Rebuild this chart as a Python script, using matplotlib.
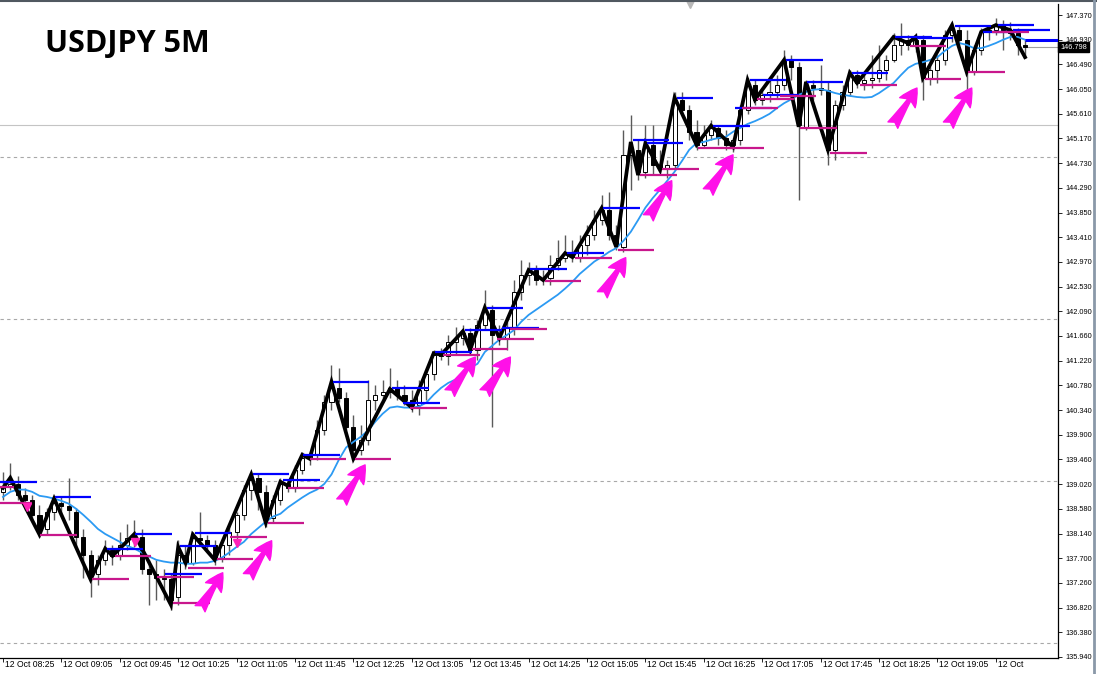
import numpy as np
import matplotlib.pyplot as plt
from matplotlib.patches import Rectangle
from matplotlib.lines import Line2D
import matplotlib.transforms as mtransforms

# ---- data (USDJPY, 5 minute bars, 12 Oct) ----
time_labels = ["08:25", "09:05", "09:45", "10:25", "11:05", "11:45", "12:25", "13:05", "13:45",
               "14:25", "15:05", "15:45", "16:25", "17:05", "17:45", "18:25", "19:05", "19:45"]

price_labels = ["147.370", "146.930", "146.490", "146.050", "145.610", "145.170", "144.730",
                "144.290", "143.850", "143.410", "142.970", "142.530", "142.090", "141.660",
                "141.220", "140.780", "140.340", "139.900", "139.460", "139.020", "138.580",
                "138.140", "137.700", "137.260", "136.820", "136.380", "135.940"]

opens = [138.88, 138.99, 139.02, 138.83, 138.74, 138.47, 138.21, 138.53, 138.69, 138.62,
         138.53, 138.08, 137.76, 137.41, 137.67, 137.85, 137.74, 137.94, 138.03, 138.08,
         137.50, 137.41, 137.35, 137.32, 137.00, 137.76, 137.62, 138.06, 138.03, 137.94,
         137.71, 137.94, 138.17, 138.47, 138.92, 139.13, 138.88, 138.42, 138.74, 139.02,
         138.95, 139.27, 139.49, 139.54, 139.99, 140.48, 140.73, 140.56, 140.04, 139.63,
         139.81, 140.52, 140.61, 140.66, 140.73, 140.61, 140.52, 140.43, 140.70, 140.97,
         141.32, 141.30, 141.55, 141.62, 141.71, 141.41, 141.85, 142.12, 141.67, 141.62,
         141.80, 142.44, 142.74, 142.83, 142.66, 142.69, 142.92, 143.05, 143.14, 143.06,
         143.28, 143.45, 143.72, 143.90, 143.45, 143.24, 144.88, 144.97, 144.58, 145.06,
         144.70, 144.65, 144.70, 145.86, 145.68, 145.29, 145.06, 145.24, 145.36, 145.18,
         145.06, 145.15, 145.68, 146.12, 145.86, 145.95, 146.00, 146.12, 146.57, 146.44,
         145.38, 146.12, 146.07, 146.04, 144.97, 145.77, 146.00, 146.30, 146.16, 146.22,
         146.25, 146.39, 146.57, 146.84, 146.93, 146.84, 146.93, 146.25, 146.39, 146.57,
         147.01, 147.11, 146.93, 146.36, 146.75, 147.07, 147.11, 147.20, 147.11, 147.05,
         146.84]

highs = [139.24, 139.40, 139.17, 138.95, 138.83, 138.65, 138.60, 138.81, 138.78, 139.13,
         138.60, 138.21, 137.85, 137.76, 138.03, 137.94, 138.17, 138.30, 138.38, 138.21,
         137.67, 137.67, 137.50, 137.41, 138.03, 137.94, 138.17, 138.53, 138.12, 138.03,
         138.03, 138.30, 138.53, 139.01, 139.24, 139.22, 139.01, 138.83, 139.13, 139.10,
         139.36, 139.59, 139.59, 140.16, 140.61, 141.14, 141.09, 140.66, 140.25, 140.07,
         140.88, 140.79, 140.88, 141.09, 140.88, 140.79, 140.70, 140.88, 141.05, 141.41,
         141.45, 141.67, 141.82, 141.85, 141.80, 141.94, 142.48, 142.21, 141.85, 141.90,
         142.66, 143.01, 142.97, 142.92, 142.83, 143.10, 143.37, 143.45, 143.37, 143.45,
         143.63, 143.90, 144.17, 144.22, 143.63, 145.33, 145.59, 145.15, 145.41, 145.41,
         144.97, 144.79, 146.00, 146.00, 145.77, 145.50, 145.41, 145.50, 145.41, 145.33,
         145.18, 145.77, 146.25, 146.22, 146.07, 146.22, 146.30, 146.75, 146.66, 146.53,
         146.22, 146.22, 146.48, 146.18, 145.86, 146.13, 146.39, 146.39, 146.36, 146.66,
         146.84, 146.66, 147.05, 147.23, 147.02, 147.05, 147.02, 146.57, 146.66, 147.11,
         147.23, 147.20, 147.11, 146.84, 147.14, 147.20, 147.32, 147.28, 147.25, 147.14,
         146.93]

lows = [138.74, 138.92, 138.74, 138.56, 138.38, 138.08, 138.12, 138.38, 138.47, 138.38,
        137.89, 137.35, 137.01, 137.23, 137.58, 137.58, 137.67, 137.85, 137.89, 137.41,
        136.87, 136.96, 136.96, 136.78, 136.87, 137.50, 137.57, 137.94, 137.85, 137.58,
        137.63, 137.76, 138.03, 138.38, 138.74, 138.56, 138.26, 138.35, 138.65, 138.88,
        138.88, 139.19, 139.35, 139.45, 139.90, 140.34, 140.48, 139.99, 139.45, 139.54,
        139.72, 140.34, 140.52, 140.56, 140.52, 140.43, 140.31, 140.25, 140.52, 140.88,
        141.23, 141.14, 141.32, 141.49, 141.32, 141.23, 141.76, 140.04, 141.49, 141.40,
        141.67, 142.30, 142.57, 142.57, 142.57, 142.57, 142.83, 142.97, 142.97, 142.97,
        143.10, 143.37, 143.63, 143.37, 143.19, 143.15, 144.26, 144.44, 144.47, 144.52,
        144.58, 144.47, 144.61, 145.59, 145.15, 144.97, 145.01, 145.15, 145.06, 144.97,
        144.93, 145.06, 145.61, 145.77, 145.77, 145.82, 145.89, 146.04, 146.22, 144.08,
        145.33, 145.86, 145.95, 144.70, 144.79, 145.68, 145.93, 146.07, 146.04, 146.07,
        146.18, 146.22, 146.53, 146.66, 146.75, 146.71, 145.86, 146.12, 146.16, 146.48,
        146.89, 146.84, 146.04, 146.30, 146.66, 146.93, 147.02, 146.75, 146.93, 146.66,
        146.61]

closes = [138.99, 139.02, 138.83, 138.74, 138.47, 138.21, 138.53, 138.69, 138.62, 138.56,
          138.08, 137.76, 137.41, 137.67, 137.85, 137.74, 137.94, 138.06, 138.08, 137.50,
          137.41, 137.35, 137.32, 136.96, 137.76, 137.62, 138.06, 138.03, 137.94, 137.71,
          137.94, 138.17, 138.47, 138.92, 139.10, 138.88, 138.42, 138.74, 139.02, 138.95,
          139.27, 139.49, 139.54, 139.99, 140.48, 140.73, 140.56, 140.04, 139.63, 139.81,
          140.52, 140.61, 140.66, 140.73, 140.61, 140.52, 140.43, 140.70, 140.97, 141.32,
          141.30, 141.55, 141.62, 141.71, 141.41, 141.85, 142.12, 141.67, 141.62, 141.80,
          142.44, 142.74, 142.83, 142.66, 142.69, 142.92, 143.05, 143.14, 143.06, 143.28,
          143.45, 143.72, 143.90, 143.45, 143.28, 144.88, 144.97, 144.58, 145.06, 144.70,
          144.65, 144.70, 145.86, 145.68, 145.29, 145.06, 145.24, 145.36, 145.18, 145.06,
          145.15, 145.68, 146.12, 145.86, 145.95, 146.00, 146.12, 146.57, 146.44, 145.41,
          146.12, 146.07, 146.04, 144.97, 145.77, 146.00, 146.30, 146.16, 146.22, 146.25,
          146.39, 146.57, 146.84, 146.93, 146.84, 146.93, 146.25, 146.39, 146.57, 147.01,
          147.11, 146.93, 146.36, 146.75, 147.07, 147.11, 147.20, 147.11, 147.05, 146.84,
          146.80]

# moving average as drawn on the chart
ma_line = [138.79, 138.88, 138.92, 138.92, 138.88, 138.81, 138.79, 138.76, 138.72, 138.67,
           138.58, 138.47, 138.35, 138.22, 138.13, 138.06, 137.99, 137.92, 137.87, 137.80,
           137.73, 137.67, 137.64, 137.62, 137.62, 137.60, 137.60, 137.62, 137.62, 137.65,
           137.71, 137.80, 137.90, 137.99, 138.13, 138.24, 138.35, 138.44, 138.49, 138.60,
           138.69, 138.78, 138.86, 138.92, 139.02, 139.19, 139.45, 139.67, 139.77, 139.86,
           139.97, 140.13, 140.27, 140.38, 140.40, 140.38, 140.38, 140.40, 140.47, 140.61,
           140.73, 140.82, 140.88, 140.96, 141.09, 141.16, 141.37, 141.48, 141.59, 141.67,
           141.76, 141.91, 142.03, 142.12, 142.21, 142.30, 142.39, 142.50, 142.62, 142.76,
           142.87, 142.98, 143.06, 143.15, 143.22, 143.35, 143.51, 143.72, 143.94, 144.11,
           144.26, 144.42, 144.58, 144.77, 144.97, 145.09, 145.11, 145.15, 145.18, 145.20,
           145.29, 145.36, 145.43, 145.48, 145.54, 145.61, 145.71, 145.80, 145.87, 145.95,
           146.00, 146.04, 146.05, 146.02, 145.98, 145.95, 145.93, 145.91, 145.90, 145.91,
           145.98, 146.07, 146.16, 146.30, 146.43, 146.50, 146.53, 146.57, 146.62, 146.73,
           146.82, 146.87, 146.84, 146.78, 146.78, 146.82, 146.87, 146.93, 146.98, 146.98,
           146.93]

# zigzag turning points (bar index, price)
zz_bars = [0, 1, 5, 7, 12, 14, 15, 18, 23, 24, 25, 26, 29, 34, 36, 38, 39, 41, 42, 45,
           48, 53, 56, 59, 60, 63, 64, 66, 68, 72, 74, 77, 78, 82, 84, 86, 87, 88, 90, 92,
           95, 97, 100, 102, 103, 107, 109, 110, 113, 116, 117, 122, 124, 125, 126, 130,
           132, 134, 136, 138, 140]
zz_prices = [138.95, 139.13, 138.12, 138.76, 137.32, 137.87, 137.74, 138.13, 136.87, 137.90,
             137.62, 138.12, 137.67, 139.19, 138.33, 139.06, 138.99, 139.54, 139.47, 140.84,
             139.47, 140.71, 140.38, 141.35, 141.32, 141.74, 141.41, 142.16, 141.62, 142.83,
             142.65, 143.13, 143.06, 143.93, 143.24, 145.11, 144.52, 145.09, 144.61, 145.90,
             145.06, 145.40, 145.02, 146.21, 145.86, 146.57, 145.38, 146.18, 144.97, 146.34,
             146.16, 146.98, 146.87, 146.98, 146.25, 147.19, 146.36, 147.07, 147.19, 147.10,
             146.62]

# resistance (blue) and support (magenta) level stubs
hi_bars = [-0.4, 7.1, 14.2, 18.1, 22.2, 24.2, 26.3, 34.2, 38.4, 41.1, 45.2, 53.3, 54.8,
           59.2, 63.3, 66.3, 68.4, 72.2, 77.3, 82.2, 86.3, 88.2, 92.3, 97.3, 100.3, 102.3,
           104.1, 107.3, 110.1, 116.3, 122.2, 125.2, 130.4, 134.2, 136.3, 138.4]
hi_prices = [139.06, 138.78, 137.87, 138.13, 137.41, 137.92, 138.15, 139.20, 139.10, 139.54,
             140.84, 140.73, 140.47, 141.37, 141.77, 142.16, 141.80, 142.85, 143.13, 143.93,
             145.15, 145.09, 145.90, 145.40, 145.72, 146.22, 145.95, 146.57, 146.18, 146.34,
             146.98, 146.96, 147.17, 147.07, 147.19, 147.10]
lo_bars = [-3.5, -1.0, 5.1, 12.2, 15.3, 21.1, 23.3, 25.3, 29.3, 31.1, 36.3, 39.0, 42.0,
           48.2, 55.8, 60.3, 64.2, 67.7, 69.5, 74.2, 78.4, 84.2, 87.3, 90.3, 95.2, 99.3,
           101.2, 103.3, 106.4, 109.2, 113.3, 117.4, 124.2, 126.3, 132.2, 135.5]
lo_prices = [138.97, 138.69, 138.12, 137.32, 137.73, 137.37, 136.90, 137.53, 137.69, 138.08,
             138.33, 138.95, 139.47, 139.47, 140.38, 141.32, 141.43, 141.60, 141.78, 142.64,
             143.05, 143.19, 144.52, 144.63, 145.00, 145.00, 145.72, 145.88, 145.93, 145.36,
             144.91, 146.13, 146.82, 146.23, 146.36, 147.07]

# hand drawn arrows: (tail bar, tail price, head bar, head price)
arrow_marks = [(27.0, 136.80, 30.1, 137.44), (33.6, 137.37, 36.8, 138.01),
               (46.4, 138.70, 49.6, 139.36), (61.2, 140.64, 64.7, 141.28),
               (66.0, 140.64, 69.5, 141.28), (82.1, 142.39, 85.3, 143.05),
               (88.4, 143.76, 91.6, 144.42), (96.6, 144.22, 100.0, 144.88),
               (121.9, 145.41, 125.2, 146.07), (129.5, 145.41, 132.7, 146.07)]
tri_bars = [3.3, 18.1, 32.0]
tri_prices = [138.61, 137.99, 137.97]

solid_level = 145.41
dashed_levels = [144.85, 141.96, 139.08, 136.19]
last_high = 146.93
bid = 146.798

# ---- figure ----
W, H = 1097, 674
fig = plt.figure(figsize=(W / 100, H / 100), dpi=100)
ax = fig.add_axes([0, 16 / H, 1058 / W, (H - 20) / H])
ax.set_xlim(-0.41, 144.52)
ax.set_ylim(135.922, 147.566)

bars = np.arange(len(opens))
o = np.array(opens)
c = np.array(closes)

ax.axhline(solid_level, color='#c4c4c4', lw=0.8, zorder=1)
for lv in dashed_levels:
    ax.axhline(lv, color='#a8a8a8', lw=0.8, ls=(0, (3, 3)), zorder=1)

# candles
ax.vlines(bars, lows, highs, color='#5a5a5a', lw=1.0, zorder=2)
up = c >= o
body_h = np.maximum(np.abs(c - o), 0.015)
ax.bar(bars, body_h, bottom=np.minimum(o, c), width=0.55,
       color=np.where(up, 'white', 'black'), edgecolor='black', linewidth=0.7, zorder=3)

ax.plot(bars, ma_line, color='#2b9af3', lw=1.3, zorder=4)
ax.plot(zz_bars, zz_prices, color='black', lw=2.7, solid_joinstyle='miter', zorder=5)

hb = np.array(hi_bars)
lb = np.array(lo_bars)
ax.hlines(hi_prices, hb, hb + 5, color='#0000ff', lw=1.6, zorder=6)
ax.hlines(lo_prices, lb, lb + 5, color='#c8178c', lw=1.6, zorder=6)
ax.hlines(last_high, bars[-1], 144.52, color='#0000ff', lw=2.2, zorder=6)
ax.hlines(bid, bars[-1], 144.52, color='#a0a0a0', lw=0.8, zorder=1)

for tx, ty, hx, hy in arrow_marks:
    ax.annotate('', xy=(hx, hy), xytext=(tx, ty),
                arrowprops=dict(arrowstyle='fancy,head_length=0.9,head_width=0.95,tail_width=0.6',
                                color='#ff10e8', shrinkA=0, shrinkB=0, mutation_scale=14),
                zorder=7)
ax.plot(tri_bars, tri_prices, 'v', color='#ff22b8', ms=6, zorder=7)

# axes styling
for s in ['top', 'left']:
    ax.spines[s].set_visible(False)
ax.spines['right'].set_linewidth(0.9)
ax.spines['bottom'].set_linewidth(0.9)

ax.yaxis.tick_right()
ax.set_yticks(np.linspace(135.94, 147.37, len(price_labels)))
ax.set_yticklabels(price_labels[::-1], fontsize=5.3, family='Liberation Sans')
ax.tick_params(axis='y', length=3, width=0.6, pad=2)

tick_bars = bars[::8][:len(time_labels)]
ax.set_xticks(tick_bars)
ax.set_xticklabels([])
ax.tick_params(axis='x', length=3, width=0.6)

# time labels, the last one is cut off where the price scale starts
clip_rect = Rectangle((0, 0), 1025 / W, 1, transform=fig.transFigure)
lab_tr = mtransforms.offset_copy(ax.get_xaxis_transform(), fig=fig, x=2, y=-2, units='dots')
for b, t in zip(tick_bars, time_labels):
    txt = ax.text(b, 0, '12 Oct ' + t, transform=lab_tr, ha='left', va='top',
                  fontsize=6.2, family='Liberation Sans')
    txt.set_clip_on(True)
    txt.set_clip_path(clip_rect)

ax.text(1.002, bid, f'{bid:.3f}', transform=ax.get_yaxis_transform(), ha='left', va='center',
        fontsize=5.3, family='Liberation Sans', color='white',
        bbox=dict(facecolor='black', edgecolor='black', pad=1.2), zorder=10, clip_on=False)

# chart shift marker
ax.plot([94.1], [1.0], marker='v', color='#b8b8b8', ms=6,
        transform=ax.get_xaxis_transform(), clip_on=False)

fig.text(45 / W, 1 - 44 / H, 'USDJPY 5M', fontsize=22, fontweight='bold',
         family=['Open Sans', 'DejaVu Sans'], va='center', ha='left')

fig.add_artist(Line2D([0, 1], [1 - 1 / H, 1 - 1 / H], color='#505860', lw=1.5, transform=fig.transFigure))
fig.add_artist(Line2D([1094 / W, 1094 / W], [0, 1], color='#8a98a8', lw=2, transform=fig.transFigure))

fig.savefig('out.png', dpi=100)
